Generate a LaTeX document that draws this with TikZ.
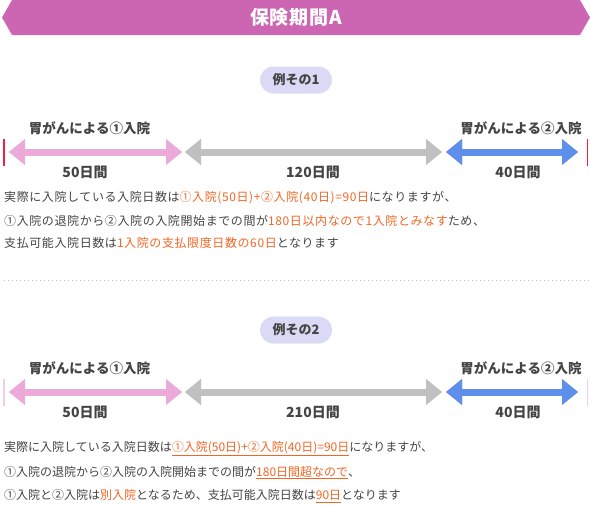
\documentclass[tikz,border=0pt]{standalone}
\usepackage{fontspec}
\setmainfont{Noto Sans CJK JP}
\usetikzlibrary{positioning, arrows.meta}
\definecolor{bannerpink}{HTML}{CC66B3}
\definecolor{pillblue}{HTML}{DADAF7}
\definecolor{armpink}{HTML}{EBAAD9}
\definecolor{armgray}{HTML}{C0C0C0}
\definecolor{armblue}{HTML}{5E8FEB}
\definecolor{tickred}{HTML}{E8234A}
\definecolor{ticklight}{HTML}{F2CCE8}
\definecolor{ink}{HTML}{444444}
\definecolor{accent}{HTML}{F26522}

\newcommand{\hot}[1]{{\color{accent}#1}}
\newcommand{\hotu}[1]{{\color{accent}\underline{#1}}}

\begin{document}
\begin{tikzpicture}[x=1pt, y=-1pt, node distance=22.5pt, on grid,
    headtxt/.style={text=white, font=\bfseries\fontsize{19}{19}\selectfont},
    pill/.style={fill=pillblue, rounded corners=13.5pt, minimum width=72pt, minimum height=27pt,
                 text=ink, font=\bfseries\fontsize{13}{13}\selectfont},
    stay/.style={text=ink, inner sep=0pt, font=\bfseries\fontsize{13.5}{13.5}\selectfont},
    days/.style={text=ink, inner sep=0pt, font=\bfseries\fontsize{14}{14}\selectfont},
    body/.style={text=ink, anchor=west, inner sep=0pt, font=\fontsize{12}{12}\selectfont},
    stretch/.style={line width=7pt,
      {Triangle[length=16pt, width=26pt, line width=0.01pt]}-{Triangle[length=16pt, width=26pt, line width=0.01pt]}},
    tick/.style={line width=1.8pt}]

   \useasboundingbox (0,0) rectangle (591,504);

   % banner
   \fill[bannerpink] (12,0) -- (580,0) -- (590,17.5) -- (580,35) -- (12,35) -- (2,17.5) -- cycle;
   \node[headtxt] (head) at (296,17.5) {\addfontfeature{LetterSpace=4}保険期間A};

   % example 1
   \node[pill] (ex1) at (296,80) {例その1};

   \coordinate (a1) at (9,152);   \coordinate (b1) at (182,152);
   \coordinate (c1) at (185,152); \coordinate (d1) at (442,152);
   \coordinate (e1) at (446,152); \coordinate (f1) at (578,152);

   \draw[tick, tickred] (4,139) -- (4,166);
   \draw[tick, tickred] (587.5,139) -- (587.5,166);

   \draw[stretch, armpink] (a1) -- (b1);
   \draw[stretch, armgray] (c1) -- (d1);
   \draw[stretch, armblue] (e1) -- (f1);

   \node[stay] (in1a) at (89.5,128) {胃がんによる①入院};
   \node[stay] (in1b) at (521,128) {胃がんによる②入院};
   \node[days] (d1a) at (85,172) {50日間};
   \node[days] (d1b) at (313,172) {120日間};
   \node[days] (d1c) at (518,172) {40日間};

   \node[body] (t1a) at (4,198) {\addfontfeature{LetterSpace=5}実際に入院している入院日数は\hot{①入院(50日)+②入院(40日)=90日}になりますが、};
   \node[body] (t1b) [below=of t1a.west, anchor=west] {\addfontfeature{LetterSpace=5}①入院の退院から②入院の入院開始までの間が\hot{180日以内なので1入院とみなす}ため、};
   \node[body] (t1c) [below=of t1b.west, anchor=west] {\addfontfeature{LetterSpace=5}支払可能入院日数は\hot{1入院の支払限度日数の60日}となります};

   \draw[armgray, line width=1pt, dash pattern=on 1pt off 3pt] (4,280) -- (590,280);

   % example 2
   \node[pill] (ex2) at (296,330) {例その2};

   \coordinate (a2) at (9,392);   \coordinate (b2) at (182,392);
   \coordinate (c2) at (185,392); \coordinate (d2) at (442,392);
   \coordinate (e2) at (446,392); \coordinate (f2) at (578,392);

   \draw[tick, ticklight] (4,379) -- (4,406);
   \draw[tick, ticklight] (587.5,379) -- (587.5,406);

   \draw[stretch, armpink] (a2) -- (b2);
   \draw[stretch, armgray] (c2) -- (d2);
   \draw[stretch, armblue] (e2) -- (f2);

   \node[stay] (in2a) at (89.5,368) {胃がんによる①入院};
   \node[stay] (in2b) at (521,368) {胃がんによる②入院};
   \node[days] (d2a) at (85,412) {50日間};
   \node[days] (d2b) at (313,412) {210日間};
   \node[days] (d2c) at (518,412) {40日間};

   \node[body] (t2a) at (4,449) {実際に入院している入院日数は\hotu{①入院(50日)+②入院(40日)=90日}になりますが、};
   \node[body] (t2b) [below=23.5pt of t2a.west, anchor=west] {①入院の退院から②入院の入院開始までの間が\hotu{180日間超なので}、};
   \node[body] (t2c) [below=23.5pt of t2b.west, anchor=west] {①入院と②入院は\hot{別入院}となるため、支払可能入院日数は\hotu{90日}となります};
\end{tikzpicture}
\end{document}
